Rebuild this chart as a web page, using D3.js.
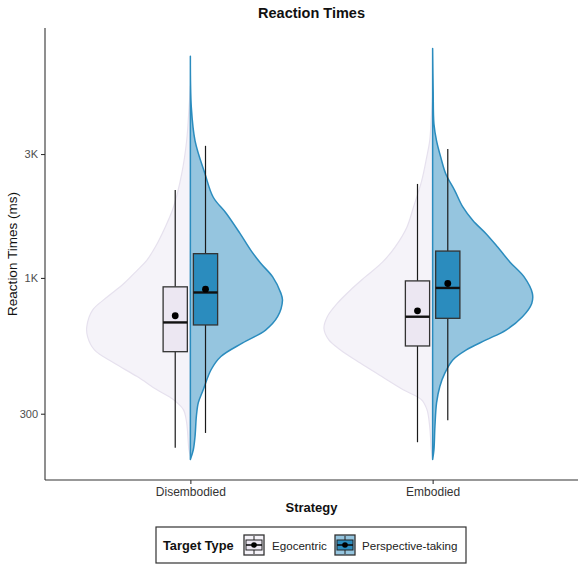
<!DOCTYPE html>
<html>
<head>
<meta charset="utf-8">
<script src="https://cdn.jsdelivr.net/npm/d3@7"></script>
<style>
  body { margin: 0; background: #fff; }
  svg { display: block; font-family: "Liberation Sans", Arial, sans-serif; }
</style>
</head>
<body>
<svg id="chart" width="584" height="569"></svg>
<script>
// ---------- DATA ----------
const strategies = ["Disembodied", "Embodied"];
const targetTypes = ["Egocentric", "Perspective-taking"];
const yTickValues = [300, 1000, 3000];
const yTickLabels = ["300", "1K", "3K"];

// Box-plot statistics (ms), one entry per strategy
const egoLow    = [222, 233];
const egoQ1     = [520, 547];
const egoMedian = [674, 709];
const egoQ3     = [924, 974];
const egoHigh   = [2183, 2301];
const egoMean   = [715, 747];

const ptLow     = [253, 283];
const ptQ1      = [659, 699];
const ptMedian  = [879, 915];
const ptQ3      = [1240, 1269];
const ptHigh    = [3226, 3135];
const ptMean    = [905, 952];

// Half-violin density profiles: [reaction time (ms), relative density]
const egoDensityDisembodied = [[207,0],[218,0.013],[277,0.034],[311,0.064],[340,0.155],[371,0.306],[417,0.488],[470,0.70],[528,0.88],[594,0.943],[649,0.95],[752,0.897],[846,0.76],[952,0.61],[1070,0.488],[1169,0.40],[1315,0.322],[1569,0.231],[1872,0.155],[2520,0.079],[3373,0.034],[4396,0.014],[5480,0]];
const ptDensityDisembodied  = [[200,0],[218,0.027],[246,0.043],[293,0.055],[331,0.073],[371,0.118],[443,0.19],[498,0.28],[562,0.48],[630,0.69],[709,0.80],[821,0.845],[874,0.83],[1009,0.755],[1139,0.645],[1277,0.555],[1484,0.455],[1771,0.33],[2045,0.21],[2520,0.134],[3373,0.043],[4526,0.009],[7145,0]];
const egoDensityEmbodied    = [[200,0],[218,0.012],[268,0.027],[311,0.052],[340,0.103],[371,0.27],[417,0.466],[470,0.664],[528,0.845],[577,0.952],[640,0.997],[709,0.966],[798,0.875],[897,0.755],[1009,0.618],[1150,0.46],[1315,0.345],[1569,0.236],[1872,0.176],[2370,0.1],[2911,0.055],[3373,0.027],[4024,0.014],[5018,0]];
const ptDensityEmbodied     = [[200,0],[218,0.012],[268,0.021],[330,0.036],[382,0.066],[430,0.112],[484,0.187],[528,0.309],[577,0.49],[630,0.673],[709,0.824],[798,0.909],[871,0.915],[1009,0.839],[1150,0.71],[1315,0.596],[1480,0.49],[1664,0.369],[1872,0.278],[2169,0.203],[2513,0.121],[2911,0.075],[3373,0.036],[3909,0.012],[5245,0.005],[7643,0]];

// ---------- STYLE ----------
const egoFill = "#ece7f2", egoViolinFill = "#f5f3f9", egoViolinStroke = "#e6e1ee";
const ptFill = "#2b8cbe", ptViolinFill = "#95c5df", ptViolinStroke = "#2b8cbe";

// ---------- LAYOUT ----------
const svg = d3.select("#chart");
const mLeft = 45, mRight = 578, mTop = 28, mBottom = 480;

const x = d3.scalePoint().domain(strategies).range([mLeft, mRight]).padding(0.6);
const step = x.step();

const allVals = [].concat(egoDensityDisembodied, ptDensityDisembodied, egoDensityEmbodied, ptDensityEmbodied).map(d => d[0]);
const lmin = Math.log10(d3.min(allVals)), lmax = Math.log10(d3.max(allVals));
const pad = (lmax - lmin) * 0.05;
const y = d3.scaleLog().domain([Math.pow(10, lmin - pad), Math.pow(10, lmax + pad)]).range([mBottom, mTop]);

const w = d3.scaleLinear().domain([0, 1]).range([0, step * 0.45]);

// ---------- VIOLINS ----------
const violins = [
  { s: "Disembodied", dir: -1, data: egoDensityDisembodied, fill: egoViolinFill, stroke: egoViolinStroke, sw: 1.2 },
  { s: "Embodied",    dir: -1, data: egoDensityEmbodied,    fill: egoViolinFill, stroke: egoViolinStroke, sw: 1.2 },
  { s: "Disembodied", dir:  1, data: ptDensityDisembodied,  fill: ptViolinFill,  stroke: ptViolinStroke,  sw: 1.5 },
  { s: "Embodied",    dir:  1, data: ptDensityEmbodied,     fill: ptViolinFill,  stroke: ptViolinStroke,  sw: 1.5 }
];
violins.forEach(v => {
  const cx = x(v.s);
  const area = d3.area()
    .y(d => y(d[0]))
    .x0(cx)
    .x1(d => cx + v.dir * w(d[1]))
    .curve(d3.curveCatmullRom.alpha(0.5));
  svg.append("path")
    .datum(v.data)
    .attr("d", area)
    .attr("fill", v.fill)
    .attr("stroke", v.stroke)
    .attr("stroke-width", v.sw)
    .attr("stroke-linejoin", "round");
});

// ---------- BOXPLOTS ----------
const boxW = step * 0.1;
const dodge = step * 0.0625;
const boxes = [
  { off: -dodge, fill: egoFill, low: egoLow, q1: egoQ1, med: egoMedian, q3: egoQ3, high: egoHigh, mean: egoMean },
  { off:  dodge, fill: ptFill,  low: ptLow,  q1: ptQ1,  med: ptMedian,  q3: ptQ3,  high: ptHigh,  mean: ptMean }
];
boxes.forEach(b => {
  strategies.forEach((s, i) => {
    const cx = x(s) + b.off;
    const g = svg.append("g");
    g.append("line").attr("x1", cx).attr("x2", cx).attr("y1", y(b.high[i])).attr("y2", y(b.q3[i]))
      .attr("stroke", "#1a1a1a").attr("stroke-width", 1.2);
    g.append("line").attr("x1", cx).attr("x2", cx).attr("y1", y(b.q1[i])).attr("y2", y(b.low[i]))
      .attr("stroke", "#1a1a1a").attr("stroke-width", 1.2);
    g.append("rect").attr("x", cx - boxW / 2).attr("width", boxW)
      .attr("y", y(b.q3[i])).attr("height", y(b.q1[i]) - y(b.q3[i]))
      .attr("fill", b.fill).attr("stroke", "#333").attr("stroke-width", 1.3);
    g.append("line").attr("x1", cx - boxW / 2).attr("x2", cx + boxW / 2)
      .attr("y1", y(b.med[i])).attr("y2", y(b.med[i]))
      .attr("stroke", "#111").attr("stroke-width", 2.4);
    g.append("circle").attr("cx", cx).attr("cy", y(b.mean[i])).attr("r", 3.4).attr("fill", "#000");
  });
});

// ---------- AXES ----------
const yAxis = d3.axisLeft(y).tickValues(yTickValues).tickFormat((d, i) => yTickLabels[i]).tickSize(4).tickPadding(3);
const gy = svg.append("g").attr("transform", `translate(${mLeft},0)`).call(yAxis);
gy.select(".domain").attr("d", `M0,${mTop}V${mBottom}`).attr("stroke", "#333").attr("stroke-width", 1.1);
gy.selectAll(".tick line").attr("stroke", "#333").attr("stroke-width", 1.1);
gy.selectAll(".tick text").attr("fill", "#4d4d4d").style("font-size", "11px").style("font-family", "Liberation Sans, Arial, sans-serif");

const xAxis = d3.axisBottom(x).tickSize(4).tickPadding(3);
const gx = svg.append("g").attr("transform", `translate(0,${mBottom})`).call(xAxis);
gx.select(".domain").attr("d", `M${mLeft},0H${mRight}`).attr("stroke", "#333").attr("stroke-width", 1.1);
gx.selectAll(".tick line").attr("stroke", "#333").attr("stroke-width", 1.1);
gx.selectAll(".tick text").attr("fill", "#333").style("font-size", "12px").style("font-family", "Liberation Sans, Arial, sans-serif");

// ---------- TITLES ----------
svg.append("text").attr("x", (mLeft + mRight) / 2).attr("y", 18).attr("text-anchor", "middle")
  .style("font-size", "14.5px").style("font-weight", "bold").attr("fill", "#111").text("Reaction Times");
svg.append("text").attr("x", (mLeft + mRight) / 2).attr("y", 512).attr("text-anchor", "middle")
  .style("font-size", "13px").style("font-weight", "bold").attr("fill", "#111").text("Strategy");
svg.append("text").attr("transform", `translate(17,${(mTop + mBottom) / 2}) rotate(-90)`).attr("text-anchor", "middle")
  .style("font-size", "13.5px").attr("fill", "#111").text("Reaction Times (ms)");

// ---------- LEGEND ----------
const lg = svg.append("g");
lg.append("rect").attr("x", 156).attr("y", 527).attr("width", 310).attr("height", 36)
  .attr("fill", "#fff").attr("stroke", "#333").attr("stroke-width", 1.2);
lg.append("text").attr("x", 163).attr("y", 550).style("font-size", "12.8px").style("font-weight", "bold")
  .attr("fill", "#111").text("Target Type");
const keys = [
  { label: targetTypes[0], kx: 244, tx: 272, vfill: egoViolinFill, bfill: egoFill },
  { label: targetTypes[1], kx: 335, tx: 362, vfill: ptViolinFill, bfill: ptFill }
];
keys.forEach(k => {
  const ky = 535, ks = 20;
  lg.append("rect").attr("x", k.kx).attr("y", ky).attr("width", ks).attr("height", ks)
    .attr("fill", k.vfill).attr("stroke", "#333").attr("stroke-width", 1.3);
  lg.append("line").attr("x1", k.kx + ks / 2).attr("x2", k.kx + ks / 2).attr("y1", ky + 1).attr("y2", ky + ks - 1)
    .attr("stroke", "#222").attr("stroke-width", 1);
  lg.append("rect").attr("x", k.kx + 2).attr("y", ky + 5).attr("width", ks - 4).attr("height", ks - 10)
    .attr("fill", k.bfill).attr("stroke", "#222").attr("stroke-width", 1);
  lg.append("line").attr("x1", k.kx + 2).attr("x2", k.kx + ks - 2).attr("y1", ky + ks / 2).attr("y2", ky + ks / 2)
    .attr("stroke", "#111").attr("stroke-width", 1.6);
  lg.append("circle").attr("cx", k.kx + ks / 2).attr("cy", ky + ks / 2).attr("r", 2.8).attr("fill", "#000");
  lg.append("text").attr("x", k.tx).attr("y", 550).style("font-size", "11.6px").attr("fill", "#222").text(k.label);
});
</script>
</body>
</html>
